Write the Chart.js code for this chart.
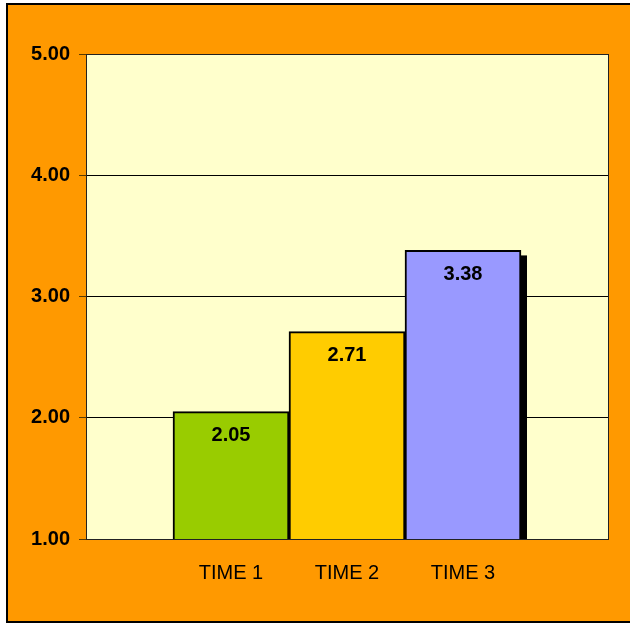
<!DOCTYPE html>
<html>
<head>
<meta charset="utf-8">
<script src="https://cdn.jsdelivr.net/npm/chart.js@4/dist/chart.umd.min.js"></script>
<style>
  body { margin: 0; background: #fff; }
  #chart { display: block; }
</style>
</head>
<body>
<canvas id="chart" width="630" height="625"></canvas>
<script>
const categories = ['TIME 1', 'TIME 2', 'TIME 3'];
const values = [2.05, 2.71, 3.38];
const barColors = ['#99CC00', '#FFCC00', '#9999FF'];
const yTicks = [1, 2, 3, 4, 5];

const FONT = 'Arial, "Liberation Sans", sans-serif';

// orange frame + pale plot area behind everything
const backdrop = {
    id: 'backdrop',
    beforeDraw(chart) {
        const { ctx, chartArea: a } = chart;
        ctx.save();
        ctx.fillStyle = '#fff';
        ctx.fillRect(0, 0, chart.width, chart.height);
        ctx.fillStyle = '#FF9900';
        ctx.fillRect(7, 4, chart.width, 618);
        ctx.strokeStyle = '#000';
        ctx.lineWidth = 2;
        ctx.strokeRect(7, 4, chart.width + 10, 618);
        ctx.fillStyle = '#FFFFCC';
        ctx.fillRect(a.left, a.top, a.right - a.left, a.bottom - a.top);
        ctx.restore();
    },
    beforeDatasetsDraw(chart) {
        const { ctx, chartArea: a } = chart;
        ctx.save();
        ctx.strokeStyle = '#222';
        ctx.lineWidth = 1;
        ctx.strokeRect(a.left + 0.5, a.top + 0.5, a.right - a.left, a.bottom - a.top);
        // drop shadow of the bars
        ctx.beginPath();
        ctx.rect(a.left, a.top, a.right - a.left, a.bottom - a.top);
        ctx.clip();
        ctx.fillStyle = '#000';
        chart.getDatasetMeta(0).data.forEach(bar => {
            ctx.fillRect(bar.x - bar.width / 2 + 6, bar.y + 5, bar.width, bar.base - bar.y);
        });
        ctx.restore();
    },
    afterDatasetsDraw(chart) {
        const { ctx } = chart;
        ctx.save();
        ctx.font = 'bold 20px ' + FONT;
        ctx.fillStyle = '#000';
        ctx.textAlign = 'center';
        ctx.textBaseline = 'middle';
        chart.getDatasetMeta(0).data.forEach((bar, i) => {
            ctx.fillText(values[i].toFixed(2), bar.x, bar.y + 24);
        });
        ctx.restore();
    }
};

new Chart(document.getElementById('chart'), {
    type: 'bar',
    data: {
        datasets: [{
            data: values.map((v, i) => ({ x: i + 1, y: v })),
            backgroundColor: barColors,
            borderColor: '#000',
            borderWidth: 2,
            borderSkipped: false,
            barPercentage: 1,
            categoryPercentage: 1
        }]
    },
    options: {
        responsive: false,
        animation: false,
        layout: { padding: { left: 0, top: 54, right: 22, bottom: 0 } },
        plugins: { legend: { display: false }, tooltip: { enabled: false } },
        scales: {
            x: {
                type: 'linear',
                offset: false,
                min: -0.25,
                max: 4.25,
                afterBuildTicks: s => { s.ticks = categories.map((c, i) => ({ value: i + 1 })); },
                afterFit: s => { s.height = 86; },
                grid: { display: false, offset: false },
                border: { display: false },
                ticks: {
                    padding: 14,
                    color: '#000',
                    font: { family: FONT, size: 20 },
                    callback: v => categories[v - 1]
                }
            },
            y: {
                min: 1,
                max: 5,
                afterBuildTicks: s => { s.ticks = yTicks.map(v => ({ value: v })); },
                afterFit: s => { s.width = 86; },
                grid: { color: '#000', lineWidth: 1, tickLength: 7, tickColor: '#5a3a00' },
                border: { display: false },
                ticks: {
                    padding: 9,
                    color: '#000',
                    font: { family: FONT, size: 20, weight: 'bold' },
                    callback: v => v.toFixed(2)
                }
            }
        }
    },
    plugins: [backdrop]
});
</script>
</body>
</html>
